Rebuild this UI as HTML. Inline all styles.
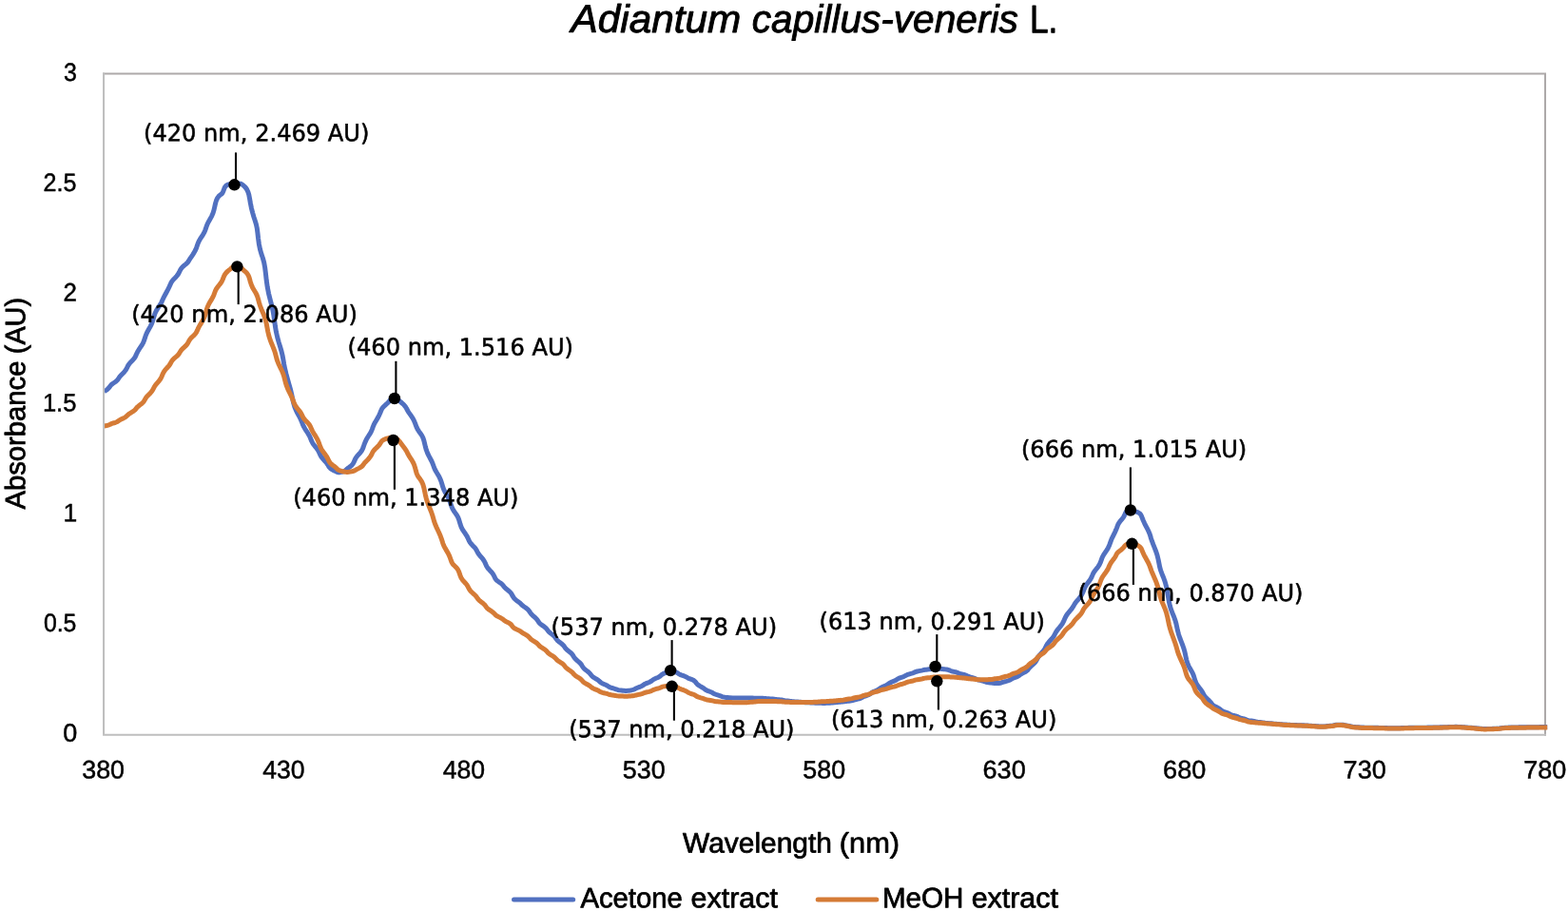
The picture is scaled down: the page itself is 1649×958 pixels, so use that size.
<!DOCTYPE html>
<html lang="en">
<head>
<meta charset="utf-8">
<title>Adiantum capillus-veneris L. absorbance spectrum</title>
<style>
html,body{margin:0;padding:0;background:#fff;}
body{width:1649px;height:958px;overflow:hidden;}
svg{display:block;}
text{fill:#000;stroke:#000;stroke-linejoin:round;text-rendering:geometricPrecision;}
.tk{font-family:"Liberation Sans",sans-serif;font-size:26.7px;stroke-width:0.5px;}
.at{font-family:"Liberation Sans",sans-serif;font-size:29.6px;stroke-width:0.75px;}
.dl{font-family:"DejaVu Sans","Liberation Sans",sans-serif;font-size:24.6px;stroke-width:0.55px;}
.ti{font-family:"Liberation Sans",sans-serif;font-size:41.2px;stroke-width:0.9px;}
.it{font-style:italic;}
</style>
</head>
<body>
<svg width="1649" height="958" viewBox="0 0 1649 958">
<rect x="0" y="0" width="1649" height="958" fill="#ffffff"/>
<path d="M109.05 77.4 L1625.0 77.4 L1625.0 772.65" fill="none" stroke="#ADA9A9" stroke-width="2.0" stroke-linecap="square"/>
<text class="ti" transform="matrix(1 0.0006 0 1 0 -0.5123)" y="34"><tspan class="it" x="600.54" textLength="178.78" lengthAdjust="spacingAndGlyphs">Adiantum</tspan> <tspan class="it" x="790.82" textLength="279.96" lengthAdjust="spacingAndGlyphs">capillus-veneris</tspan> <tspan x="1082.96" textLength="29.41" lengthAdjust="spacingAndGlyphs">L.</tspan></text>
<text class="tk" transform="matrix(1 0.0006 0 1 0 -0.0442)" x="66.9" y="85.1" textLength="13.84" lengthAdjust="spacingAndGlyphs">3</text>
<text class="tk" transform="matrix(1 0.0006 0 1 0 -0.0379)" x="45.59" y="200.9" textLength="34.81" lengthAdjust="spacingAndGlyphs">2.5</text>
<text class="tk" transform="matrix(1 0.0006 0 1 0 -0.0442)" x="66.55" y="316.6" textLength="14.41" lengthAdjust="spacingAndGlyphs">2</text>
<text class="tk" transform="matrix(1 0.0006 0 1 0 -0.0379)" x="44.9" y="432.4" textLength="35.52" lengthAdjust="spacingAndGlyphs">1.5</text>
<text class="tk" transform="matrix(1 0.0006 0 1 0 -0.0445)" x="66.54" y="548.2" textLength="14.71" lengthAdjust="spacingAndGlyphs">1</text>
<text class="tk" transform="matrix(1 0.0006 0 1 0 -0.0379)" x="45.88" y="664.0" textLength="34.51" lengthAdjust="spacingAndGlyphs">0.5</text>
<text class="tk" transform="matrix(1 0.0006 0 1 0 -0.0442)" x="66.2" y="779.7" textLength="15.01" lengthAdjust="spacingAndGlyphs">0</text>
<text class="tk" transform="matrix(1 0.0006 0 1 0 -0.0652)" x="86.28" y="818.4" textLength="44.77" lengthAdjust="spacingAndGlyphs">380</text>
<text class="tk" transform="matrix(1 0.0006 0 1 0 -0.1789)" x="276.22" y="818.4" textLength="44.35" lengthAdjust="spacingAndGlyphs">430</text>
<text class="tk" transform="matrix(1 0.0006 0 1 0 -0.2926)" x="465.75" y="818.4" textLength="44.35" lengthAdjust="spacingAndGlyphs">480</text>
<text class="tk" transform="matrix(1 0.0006 0 1 0 -0.4063)" x="654.81" y="818.4" textLength="44.83" lengthAdjust="spacingAndGlyphs">530</text>
<text class="tk" transform="matrix(1 0.0006 0 1 0 -0.5201)" x="844.34" y="818.4" textLength="44.83" lengthAdjust="spacingAndGlyphs">580</text>
<text class="tk" transform="matrix(1 0.0006 0 1 0 -0.6338)" x="1033.58" y="818.4" textLength="45.13" lengthAdjust="spacingAndGlyphs">630</text>
<text class="tk" transform="matrix(1 0.0006 0 1 0 -0.7475)" x="1223.11" y="818.4" textLength="45.13" lengthAdjust="spacingAndGlyphs">680</text>
<text class="tk" transform="matrix(1 0.0006 0 1 0 -0.8612)" x="1412.62" y="818.4" textLength="45.14" lengthAdjust="spacingAndGlyphs">730</text>
<text class="tk" transform="matrix(1 0.0006 0 1 0 -0.9749)" x="1602.15" y="818.4" textLength="45.14" lengthAdjust="spacingAndGlyphs">780</text>
<text class="at" transform="translate(26.25 535.9) rotate(-90) matrix(1 0.0006 0 1 0 -0.0664)" y="0"><tspan x="0.32" textLength="156.11" lengthAdjust="spacingAndGlyphs">Absorbance</tspan> <tspan x="163.69" textLength="59.22" lengthAdjust="spacingAndGlyphs">(AU)</tspan></text>
<text class="at" transform="matrix(1 0.0006 0 1 0 -0.4987)" y="896.5"><tspan x="718.14" textLength="156.81" lengthAdjust="spacingAndGlyphs">Wavelength</tspan> <tspan x="882.77" textLength="63.27" lengthAdjust="spacingAndGlyphs">(nm)</tspan></text>
<g>
<path d="M109.60 411.73 L110.73 411.00 L112.24 410.02 L113.55 408.92 L114.57 407.81 L115.37 406.71 L116.16 405.62 L117.15 404.55 L118.43 403.51 L119.93 402.48 L121.44 401.44 L122.75 400.37 L123.77 399.26 L124.57 398.11 L125.36 396.90 L126.35 395.59 L127.63 394.19 L129.13 392.69 L130.64 391.14 L131.95 389.54 L132.97 387.93 L133.77 386.31 L134.56 384.68 L135.55 383.07 L136.83 381.50 L138.33 379.99 L139.84 378.48 L141.15 376.95 L142.17 375.34 L142.97 373.64 L143.76 371.80 L144.75 369.81 L146.03 367.68 L147.53 365.45 L149.04 363.18 L150.35 360.88 L151.37 358.54 L152.17 356.13 L152.96 353.63 L153.95 351.06 L155.23 348.45 L156.73 345.80 L158.24 343.13 L159.55 340.42 L160.57 337.66 L161.37 334.86 L162.16 332.06 L163.15 329.28 L164.43 326.62 L165.93 324.14 L167.44 321.92 L168.75 319.93 L169.77 318.10 L170.57 316.33 L171.36 314.49 L172.35 312.43 L173.63 310.04 L175.13 307.31 L176.64 304.44 L177.95 301.74 L178.97 299.47 L179.77 297.68 L180.56 296.22 L181.55 294.89 L182.83 293.51 L184.33 292.00 L185.84 290.35 L187.15 288.62 L188.17 286.90 L188.97 285.23 L189.76 283.63 L190.75 282.09 L192.03 280.64 L193.53 279.31 L195.04 278.10 L196.35 277.00 L197.37 275.94 L198.17 274.82 L198.96 273.53 L199.95 271.95 L201.23 270.03 L202.73 267.81 L204.24 265.42 L205.55 263.01 L206.57 260.64 L207.37 258.31 L208.16 255.99 L209.15 253.68 L210.43 251.37 L211.93 249.08 L213.44 246.78 L214.75 244.48 L215.77 242.18 L216.57 239.86 L217.36 237.53 L218.35 235.14 L219.63 232.67 L221.13 230.08 L222.64 227.34 L223.95 224.35 L224.97 221.05 L225.77 217.48 L226.56 213.88 L227.55 210.61 L228.83 207.94 L230.33 206.05 L231.84 204.81 L233.15 203.88 L234.17 202.62 L234.97 200.75 L235.76 198.44 L236.75 196.39 L238.03 194.99 L239.53 194.22 L241.04 193.80 L242.35 193.52 L243.37 193.33 L244.17 193.18 L244.96 193.09 L245.95 193.03 L247.23 193.02 L248.73 193.02 L250.24 193.05 L251.55 193.08 L252.57 193.15 L253.37 193.32 L254.16 193.70 L255.15 194.38 L256.43 195.42 L257.93 196.88 L259.44 198.88 L260.75 201.52 L261.77 204.85 L262.57 208.89 L263.36 213.54 L264.35 218.57 L265.63 223.61 L266.96 228.24 L268.30 232.30 L269.43 236.04 L270.28 239.93 L270.90 244.64 L271.52 250.25 L272.34 256.40 L273.45 262.03 L274.83 266.86 L276.34 271.25 L277.65 276.01 L278.67 281.65 L279.47 288.16 L280.26 295.19 L281.25 302.10 L282.53 308.56 L284.03 314.55 L285.54 320.29 L286.85 325.98 L287.87 331.68 L288.67 337.45 L289.46 343.26 L290.45 349.06 L291.73 354.74 L293.23 360.11 L294.74 365.02 L296.05 369.51 L297.07 373.80 L297.87 378.20 L298.66 382.90 L299.65 387.91 L300.93 393.19 L302.43 398.61 L303.96 404.06 L305.46 409.38 L306.67 414.47 L307.66 419.25 L308.64 423.66 L309.83 427.71 L311.30 431.41 L312.99 434.77 L314.64 437.75 L315.95 440.35 L316.97 442.64 L317.77 444.73 L318.56 446.76 L319.55 448.87 L320.83 451.09 L322.33 453.38 L323.84 455.67 L325.15 457.87 L326.17 459.99 L326.97 462.01 L327.76 463.97 L328.75 465.89 L330.03 467.78 L331.53 469.66 L333.04 471.53 L334.35 473.37 L335.37 475.18 L336.17 476.95 L336.96 478.68 L337.95 480.40 L339.23 482.10 L340.73 483.80 L342.24 485.44 L343.55 486.99 L344.57 488.44 L345.37 489.81 L346.16 491.08 L347.15 492.26 L348.43 493.29 L349.93 494.17 L351.44 494.88 L352.75 495.49 L353.77 496.00 L354.57 496.41 L355.36 496.67 L356.35 496.76 L357.63 496.65 L359.13 496.38 L360.64 495.97 L361.95 495.47 L362.97 494.89 L363.77 494.23 L364.56 493.47 L365.55 492.63 L366.83 491.71 L368.33 490.64 L369.84 489.32 L371.15 487.73 L372.17 485.95 L372.97 484.13 L373.76 482.39 L374.75 480.75 L376.03 479.16 L377.53 477.53 L379.04 475.83 L380.35 474.02 L381.37 472.10 L382.17 470.01 L382.96 467.68 L383.95 465.08 L385.23 462.35 L386.73 459.75 L388.24 457.44 L389.55 455.39 L390.57 453.41 L391.37 451.33 L392.16 449.09 L393.15 446.70 L394.43 444.22 L395.93 441.69 L397.44 439.12 L398.75 436.61 L399.77 434.28 L400.57 432.23 L401.36 430.47 L402.35 428.92 L403.63 427.48 L405.13 426.08 L406.64 424.73 L407.95 423.46 L408.97 422.32 L409.77 421.34 L410.56 420.52 L411.55 419.84 L412.83 419.32 L414.33 418.99 L415.84 418.93 L417.15 419.15 L418.17 419.64 L418.97 420.33 L419.76 421.17 L420.75 422.13 L422.03 423.25 L423.53 424.57 L425.04 426.08 L426.35 427.67 L427.37 429.25 L428.17 430.76 L428.96 432.26 L429.95 433.85 L431.23 435.67 L432.73 437.79 L434.24 440.19 L435.55 442.69 L436.57 445.11 L437.37 447.34 L438.16 449.43 L439.15 451.45 L440.43 453.46 L441.93 455.48 L443.44 457.66 L444.75 460.14 L445.77 463.05 L446.57 466.31 L447.36 469.75 L448.35 473.20 L449.63 476.54 L451.13 479.65 L452.64 482.47 L453.95 484.99 L454.97 487.30 L455.77 489.53 L456.56 491.75 L457.55 494.00 L458.83 496.31 L460.33 498.76 L461.84 501.37 L463.15 504.10 L464.17 506.86 L464.97 509.58 L465.76 512.22 L466.75 514.81 L468.03 517.40 L469.53 520.01 L471.04 522.64 L472.35 525.28 L473.37 527.88 L474.17 530.40 L474.96 532.80 L475.95 535.07 L477.23 537.24 L478.73 539.36 L480.24 541.52 L481.55 543.80 L482.57 546.27 L483.37 548.91 L484.16 551.64 L485.15 554.32 L486.43 556.83 L487.93 559.14 L489.44 561.27 L490.75 563.29 L491.77 565.20 L492.57 567.04 L493.36 568.80 L494.35 570.48 L495.63 572.09 L497.13 573.65 L498.64 575.19 L499.95 576.73 L500.97 578.27 L501.77 579.82 L502.56 581.36 L503.55 582.92 L504.83 584.52 L506.33 586.21 L507.84 587.99 L509.15 589.88 L510.17 591.80 L510.97 593.67 L511.76 595.43 L512.75 597.06 L514.03 598.61 L515.53 600.15 L517.04 601.76 L518.35 603.46 L519.37 605.22 L520.17 606.94 L520.96 608.51 L521.95 609.86 L523.23 611.02 L524.73 612.04 L526.24 613.01 L527.55 613.97 L528.57 614.97 L529.37 616.01 L530.16 617.09 L531.15 618.20 L532.43 619.33 L533.93 620.49 L535.44 621.69 L536.75 622.95 L537.77 624.29 L538.57 625.73 L539.36 627.24 L540.35 628.74 L541.63 630.15 L543.13 631.41 L544.64 632.50 L545.95 633.44 L546.97 634.28 L547.77 635.09 L548.56 635.92 L549.55 636.81 L550.83 637.77 L552.33 638.79 L553.84 639.86 L555.15 640.96 L556.17 642.09 L556.97 643.26 L557.76 644.47 L558.75 645.72 L560.03 647.03 L561.53 648.37 L563.04 649.72 L564.35 651.06 L565.37 652.35 L566.17 653.58 L566.96 654.75 L567.95 655.84 L569.23 656.89 L570.73 657.91 L572.24 658.92 L573.55 659.94 L574.57 660.98 L575.37 662.06 L576.16 663.16 L577.15 664.30 L578.43 665.45 L579.93 666.61 L581.44 667.77 L582.75 668.94 L583.77 670.10 L584.57 671.25 L585.36 672.40 L586.35 673.55 L587.63 674.70 L589.13 675.85 L590.64 677.00 L591.95 678.15 L592.97 679.29 L593.77 680.43 L594.56 681.56 L595.55 682.70 L596.83 683.85 L598.33 685.01 L599.84 686.19 L601.15 687.40 L602.17 688.64 L602.97 689.91 L603.76 691.19 L604.75 692.47 L606.03 693.76 L607.53 695.05 L609.04 696.34 L610.35 697.62 L611.37 698.91 L612.17 700.20 L612.96 701.48 L613.95 702.73 L615.23 703.95 L616.73 705.12 L618.24 706.26 L619.55 707.37 L620.57 708.45 L621.37 709.50 L622.16 710.52 L623.15 711.50 L624.43 712.44 L625.93 713.34 L627.44 714.21 L628.75 715.05 L629.77 715.86 L630.57 716.64 L631.36 717.38 L632.35 718.09 L633.63 718.77 L635.13 719.43 L636.64 720.06 L637.95 720.67 L638.97 721.24 L639.77 721.79 L640.56 722.30 L641.55 722.79 L642.83 723.26 L644.33 723.71 L645.84 724.14 L647.15 724.53 L648.17 724.89 L648.97 725.20 L649.76 725.46 L650.75 725.68 L652.03 725.87 L653.53 726.05 L655.04 726.21 L656.35 726.33 L657.37 726.42 L658.17 726.45 L658.96 726.43 L659.95 726.33 L661.23 726.17 L662.73 725.95 L664.24 725.68 L665.55 725.39 L666.57 725.08 L667.37 724.72 L668.16 724.30 L669.15 723.82 L670.43 723.27 L671.93 722.69 L673.44 722.09 L674.75 721.49 L675.77 720.91 L676.57 720.34 L677.36 719.78 L678.35 719.21 L679.63 718.64 L681.13 718.06 L682.64 717.47 L683.95 716.87 L684.97 716.26 L685.77 715.64 L686.56 715.02 L687.55 714.38 L688.83 713.73 L690.33 713.08 L691.84 712.42 L693.15 711.75 L694.17 711.06 L694.97 710.36 L695.76 709.66 L696.75 708.96 L698.03 708.28 L699.53 707.61 L701.04 706.94 L702.35 706.27 L703.37 705.67 L704.17 705.22 L704.96 705.03 L705.95 705.13 L707.23 705.47 L708.73 705.99 L710.24 706.58 L711.55 707.19 L712.57 707.76 L713.37 708.31 L714.16 708.84 L715.15 709.37 L716.43 709.90 L717.93 710.43 L719.44 710.95 L720.75 711.46 L721.77 711.96 L722.57 712.43 L723.36 712.90 L724.35 713.37 L725.63 713.87 L727.13 714.42 L728.64 715.05 L729.95 715.78 L730.97 716.65 L731.77 717.62 L732.56 718.66 L733.55 719.71 L734.83 720.72 L736.33 721.65 L737.84 722.48 L739.15 723.23 L740.17 723.93 L740.97 724.59 L741.76 725.21 L742.75 725.82 L744.03 726.40 L745.53 726.96 L747.04 727.52 L748.35 728.05 L749.37 728.57 L750.17 729.07 L750.96 729.55 L751.95 730.01 L753.23 730.46 L754.73 730.90 L756.24 731.34 L757.55 731.77 L758.57 732.18 L759.37 732.54 L760.16 732.84 L761.15 733.09 L762.43 733.27 L763.93 733.42 L765.44 733.55 L766.75 733.66 L767.77 733.75 L768.57 733.82 L769.36 733.87 L770.35 733.90 L771.63 733.92 L773.13 733.93 L774.64 733.94 L775.95 733.95 L776.97 733.95 L777.77 733.96 L778.56 733.97 L779.55 733.97 L780.83 733.98 L782.33 733.99 L783.84 734.00 L785.15 734.01 L786.17 734.02 L786.97 734.04 L787.76 734.05 L788.75 734.07 L790.03 734.09 L791.53 734.11 L793.04 734.13 L794.35 734.15 L795.37 734.17 L796.17 734.20 L796.96 734.23 L797.95 734.26 L799.23 734.29 L800.73 734.33 L802.24 734.37 L803.55 734.43 L804.57 734.49 L805.37 734.56 L806.16 734.64 L807.15 734.72 L808.43 734.81 L809.93 734.90 L811.44 734.99 L812.75 735.09 L813.77 735.20 L814.57 735.30 L815.36 735.41 L816.35 735.52 L817.63 735.64 L819.13 735.78 L820.64 735.92 L821.95 736.08 L822.97 736.24 L823.77 736.41 L824.56 736.59 L825.55 736.76 L826.83 736.93 L828.33 737.10 L829.84 737.25 L831.15 737.40 L832.17 737.53 L832.97 737.65 L833.76 737.76 L834.75 737.85 L836.03 737.95 L837.53 738.04 L839.04 738.12 L840.35 738.21 L841.37 738.28 L842.17 738.36 L842.96 738.43 L843.95 738.50 L845.23 738.57 L846.73 738.63 L848.24 738.69 L849.55 738.75 L850.57 738.80 L851.37 738.86 L852.16 738.92 L853.15 738.97 L854.43 739.03 L855.93 739.08 L857.44 739.14 L858.75 739.19 L859.77 739.23 L860.57 739.28 L861.36 739.31 L862.35 739.34 L863.63 739.37 L865.13 739.38 L866.64 739.39 L867.95 739.39 L868.97 739.37 L869.77 739.33 L870.56 739.28 L871.55 739.22 L872.83 739.14 L874.33 739.05 L875.84 738.96 L877.15 738.86 L878.17 738.75 L878.97 738.64 L879.76 738.53 L880.75 738.42 L882.03 738.31 L883.53 738.20 L885.04 738.08 L886.35 737.97 L887.37 737.85 L888.17 737.73 L888.96 737.60 L889.95 737.46 L891.23 737.31 L892.73 737.15 L894.24 736.98 L895.55 736.80 L896.57 736.59 L897.37 736.37 L898.16 736.11 L899.15 735.82 L900.43 735.49 L901.93 735.12 L903.44 734.74 L904.75 734.33 L905.77 733.90 L906.57 733.46 L907.36 733.01 L908.35 732.54 L909.63 732.05 L911.13 731.52 L912.64 730.97 L913.95 730.39 L914.97 729.79 L915.77 729.18 L916.56 728.56 L917.55 727.95 L918.83 727.33 L920.33 726.72 L921.84 726.11 L923.15 725.50 L924.17 724.89 L924.97 724.27 L925.76 723.64 L926.75 723.02 L928.03 722.39 L929.53 721.77 L931.04 721.15 L932.35 720.53 L933.37 719.90 L934.17 719.28 L934.96 718.65 L935.95 718.02 L937.23 717.40 L938.73 716.78 L940.24 716.17 L941.55 715.57 L942.57 714.99 L943.37 714.43 L944.16 713.88 L945.15 713.35 L946.43 712.82 L947.93 712.31 L949.44 711.81 L950.75 711.31 L951.77 710.83 L952.57 710.37 L953.36 709.92 L954.35 709.47 L955.63 709.04 L957.13 708.62 L958.64 708.20 L959.95 707.78 L960.97 707.38 L961.77 707.00 L962.56 706.63 L963.55 706.28 L964.83 705.96 L966.33 705.67 L967.84 705.40 L969.15 705.16 L970.17 704.93 L970.97 704.71 L971.76 704.51 L972.75 704.32 L974.03 704.14 L975.53 703.99 L977.04 703.84 L978.35 703.70 L979.37 703.57 L980.17 703.45 L980.96 703.33 L981.95 703.24 L983.23 703.17 L984.73 703.13 L986.24 703.13 L987.55 703.16 L988.57 703.23 L989.37 703.32 L990.16 703.43 L991.15 703.56 L992.43 703.70 L993.93 703.86 L995.44 704.06 L996.75 704.31 L997.77 704.59 L998.57 704.92 L999.36 705.26 L1000.35 705.62 L1001.63 705.98 L1003.13 706.33 L1004.64 706.67 L1005.95 707.01 L1006.97 707.35 L1007.77 707.69 L1008.56 708.04 L1009.55 708.39 L1010.83 708.75 L1012.33 709.11 L1013.84 709.48 L1015.15 709.86 L1016.17 710.24 L1016.97 710.64 L1017.76 711.05 L1018.75 711.48 L1020.03 711.91 L1021.53 712.34 L1023.04 712.76 L1024.35 713.18 L1025.37 713.59 L1026.17 713.98 L1026.96 714.35 L1027.95 714.71 L1029.23 715.05 L1030.73 715.39 L1032.24 715.71 L1033.55 716.03 L1034.57 716.34 L1035.37 716.64 L1036.16 716.95 L1037.15 717.24 L1038.43 717.52 L1039.93 717.75 L1041.44 717.95 L1042.75 718.11 L1043.77 718.25 L1044.57 718.38 L1045.36 718.48 L1046.35 718.54 L1047.63 718.56 L1049.13 718.52 L1050.64 718.40 L1051.95 718.22 L1052.97 717.98 L1053.77 717.70 L1054.56 717.39 L1055.55 717.07 L1056.83 716.73 L1058.33 716.36 L1059.84 715.95 L1061.15 715.49 L1062.17 715.01 L1062.97 714.51 L1063.76 714.00 L1064.75 713.49 L1066.03 712.96 L1067.53 712.43 L1069.04 711.88 L1070.35 711.31 L1071.37 710.71 L1072.17 710.09 L1072.96 709.44 L1073.95 708.76 L1075.23 708.05 L1076.73 707.31 L1078.24 706.52 L1079.55 705.69 L1080.57 704.80 L1081.37 703.84 L1082.16 702.80 L1083.15 701.67 L1084.43 700.44 L1085.93 699.12 L1087.44 697.75 L1088.75 696.33 L1089.77 694.87 L1090.57 693.37 L1091.36 691.82 L1092.35 690.21 L1093.63 688.56 L1095.13 686.89 L1096.64 685.23 L1097.95 683.59 L1098.97 681.97 L1099.77 680.34 L1100.56 678.72 L1101.55 677.08 L1102.83 675.42 L1104.33 673.73 L1105.89 672.02 L1107.31 670.30 L1108.45 668.56 L1109.36 666.83 L1110.27 665.11 L1111.38 663.36 L1112.77 661.55 L1114.39 659.65 L1116.01 657.64 L1117.43 655.53 L1118.57 653.40 L1119.48 651.29 L1120.39 649.23 L1121.49 647.21 L1122.87 645.24 L1124.46 643.30 L1126.07 641.43 L1127.47 639.66 L1128.58 637.98 L1129.48 636.39 L1130.37 634.84 L1131.45 633.27 L1132.83 631.62 L1134.43 629.82 L1136.03 627.85 L1137.44 625.72 L1138.55 623.50 L1139.45 621.26 L1140.33 619.05 L1141.35 616.92 L1142.63 614.86 L1144.13 612.85 L1145.64 610.87 L1146.95 608.93 L1147.97 607.02 L1148.77 605.14 L1149.56 603.31 L1150.55 601.51 L1151.83 599.71 L1153.33 597.86 L1154.84 595.94 L1156.15 593.91 L1157.17 591.78 L1157.97 589.59 L1158.76 587.36 L1159.75 585.11 L1161.03 582.85 L1162.53 580.59 L1164.04 578.35 L1165.35 576.16 L1166.37 574.02 L1167.17 571.93 L1167.92 569.80 L1168.75 567.53 L1169.88 565.04 L1171.22 562.34 L1172.57 559.61 L1173.72 557.07 L1174.58 554.88 L1175.23 553.05 L1175.86 551.45 L1176.70 549.96 L1177.80 548.47 L1179.11 546.93 L1180.42 545.37 L1181.54 543.83 L1182.37 542.33 L1182.98 540.86 L1183.58 539.46 L1184.38 538.25 L1185.63 537.37 L1187.13 536.92 L1188.64 536.78 L1189.95 536.81 L1190.97 536.89 L1191.77 537.02 L1192.56 537.22 L1193.55 537.53 L1194.83 538.00 L1196.31 538.61 L1197.73 539.38 L1198.96 540.32 L1199.89 541.52 L1200.61 543.03 L1201.32 544.92 L1202.25 547.26 L1203.53 550.05 L1205.03 553.05 L1206.54 555.96 L1207.85 558.56 L1208.87 560.91 L1209.67 563.28 L1210.46 565.93 L1211.45 568.97 L1212.73 572.38 L1214.23 576.09 L1215.74 580.02 L1217.05 584.10 L1218.07 588.24 L1218.87 592.33 L1219.66 596.25 L1220.65 599.91 L1221.98 603.44 L1223.55 607.24 L1225.14 611.62 L1226.52 616.65 L1227.60 622.00 L1228.48 627.33 L1229.34 632.35 L1230.35 636.95 L1231.63 641.15 L1233.13 645.04 L1234.64 648.77 L1235.95 652.42 L1236.97 656.04 L1237.77 659.69 L1238.56 663.40 L1239.55 667.18 L1240.83 671.00 L1242.33 674.86 L1243.84 678.75 L1245.15 682.63 L1246.17 686.47 L1246.97 690.23 L1247.76 693.85 L1248.75 697.24 L1250.03 700.33 L1251.53 703.11 L1253.04 705.67 L1254.35 708.18 L1255.37 710.76 L1256.17 713.39 L1256.96 715.99 L1257.95 718.41 L1259.23 720.61 L1260.73 722.62 L1262.24 724.48 L1263.55 726.22 L1264.57 727.87 L1265.37 729.43 L1266.16 730.92 L1267.15 732.37 L1268.43 733.82 L1269.93 735.27 L1271.44 736.68 L1272.75 738.01 L1273.77 739.20 L1274.57 740.25 L1275.36 741.18 L1276.35 742.03 L1277.63 742.82 L1279.13 743.58 L1280.64 744.32 L1281.95 745.05 L1282.97 745.75 L1283.77 746.43 L1284.56 747.08 L1285.55 747.70 L1286.83 748.27 L1288.33 748.82 L1289.84 749.34 L1291.15 749.83 L1292.17 750.31 L1292.97 750.77 L1293.76 751.21 L1294.75 751.65 L1296.03 752.06 L1297.53 752.46 L1299.04 752.85 L1300.35 753.23 L1301.37 753.61 L1302.17 753.99 L1302.96 754.38 L1303.95 754.77 L1305.23 755.18 L1306.73 755.59 L1308.24 756.00 L1309.55 756.39 L1310.57 756.74 L1311.37 757.06 L1312.16 757.35 L1313.15 757.61 L1314.43 757.85 L1315.93 758.08 L1317.44 758.30 L1318.75 758.51 L1319.77 758.71 L1320.57 758.90 L1321.36 759.08 L1322.35 759.26 L1323.63 759.42 L1325.13 759.58 L1326.64 759.73 L1327.95 759.88 L1328.97 760.02 L1329.77 760.15 L1330.56 760.28 L1331.55 760.40 L1332.83 760.51 L1334.33 760.63 L1335.84 760.73 L1337.15 760.84 L1338.17 760.94 L1338.97 761.04 L1339.76 761.14 L1340.75 761.24 L1342.03 761.33 L1343.53 761.43 L1345.04 761.52 L1346.35 761.62 L1347.37 761.71 L1348.17 761.79 L1348.96 761.88 L1349.95 761.96 L1351.23 762.04 L1352.73 762.11 L1354.24 762.19 L1355.55 762.25 L1356.57 762.31 L1357.37 762.37 L1358.16 762.42 L1359.15 762.47 L1360.43 762.51 L1361.93 762.55 L1363.44 762.59 L1364.75 762.63 L1365.77 762.66 L1366.57 762.70 L1367.36 762.73 L1368.35 762.77 L1369.63 762.81 L1371.13 762.85 L1372.64 762.90 L1373.95 762.95 L1374.97 763.01 L1375.77 763.07 L1376.56 763.15 L1377.55 763.23 L1378.83 763.32 L1380.33 763.40 L1381.84 763.49 L1383.15 763.58 L1384.17 763.66 L1384.97 763.74 L1385.76 763.80 L1386.75 763.86 L1388.03 763.90 L1389.53 763.93 L1391.04 763.93 L1392.35 763.91 L1393.37 763.87 L1394.17 763.80 L1394.96 763.71 L1395.95 763.60 L1397.23 763.49 L1398.73 763.36 L1400.24 763.23 L1401.55 763.08 L1402.57 762.90 L1403.37 762.70 L1404.16 762.50 L1405.15 762.33 L1406.43 762.22 L1407.93 762.18 L1409.44 762.19 L1410.75 762.22 L1411.77 762.28 L1412.57 762.35 L1413.36 762.45 L1414.35 762.61 L1415.63 762.84 L1417.13 763.13 L1418.64 763.44 L1419.95 763.73 L1420.97 763.97 L1421.77 764.16 L1422.56 764.31 L1423.55 764.44 L1424.83 764.56 L1426.33 764.67 L1427.84 764.76 L1429.15 764.85 L1430.17 764.92 L1430.97 764.98 L1431.76 765.03 L1432.75 765.07 L1434.03 765.10 L1435.53 765.13 L1437.04 765.15 L1438.35 765.18 L1439.37 765.19 L1440.17 765.21 L1440.96 765.23 L1441.95 765.25 L1443.23 765.26 L1444.73 765.28 L1446.24 765.29 L1447.55 765.31 L1448.57 765.33 L1449.37 765.36 L1450.16 765.38 L1451.15 765.41 L1452.43 765.45 L1453.93 765.48 L1455.44 765.52 L1456.75 765.55 L1457.77 765.59 L1458.57 765.62 L1459.36 765.66 L1460.35 765.68 L1461.63 765.71 L1463.13 765.73 L1464.64 765.74 L1465.95 765.74 L1466.97 765.74 L1467.77 765.73 L1468.56 765.72 L1469.55 765.70 L1470.83 765.67 L1472.33 765.64 L1473.84 765.60 L1475.15 765.57 L1476.17 765.53 L1476.97 765.49 L1477.76 765.46 L1478.75 765.43 L1480.03 765.40 L1481.53 765.37 L1483.04 765.35 L1484.35 765.33 L1485.37 765.31 L1486.17 765.30 L1486.96 765.29 L1487.95 765.27 L1489.23 765.26 L1490.73 765.25 L1492.24 765.24 L1493.55 765.22 L1494.57 765.21 L1495.37 765.20 L1496.16 765.18 L1497.15 765.17 L1498.43 765.16 L1499.93 765.14 L1501.44 765.12 L1502.75 765.10 L1503.77 765.09 L1504.57 765.07 L1505.36 765.05 L1506.35 765.03 L1507.63 765.01 L1509.13 764.99 L1510.64 764.97 L1511.95 764.95 L1512.97 764.92 L1513.77 764.90 L1514.56 764.87 L1515.55 764.84 L1516.83 764.81 L1518.33 764.77 L1519.84 764.73 L1521.15 764.68 L1522.17 764.63 L1522.97 764.58 L1523.76 764.53 L1524.75 764.48 L1526.03 764.44 L1527.53 764.41 L1529.04 764.38 L1530.35 764.36 L1531.37 764.36 L1532.17 764.37 L1532.96 764.40 L1533.95 764.45 L1535.23 764.51 L1536.73 764.57 L1538.24 764.65 L1539.55 764.72 L1540.57 764.80 L1541.37 764.87 L1542.16 764.95 L1543.15 765.04 L1544.43 765.13 L1545.93 765.22 L1547.44 765.32 L1548.75 765.41 L1549.77 765.51 L1550.57 765.62 L1551.36 765.72 L1552.35 765.84 L1553.63 765.97 L1555.13 766.10 L1556.64 766.23 L1557.95 766.34 L1558.97 766.44 L1559.77 766.50 L1560.56 766.53 L1561.55 766.54 L1562.83 766.53 L1564.33 766.51 L1565.84 766.49 L1567.15 766.46 L1568.17 766.42 L1568.97 766.38 L1569.76 766.34 L1570.75 766.29 L1572.03 766.24 L1573.53 766.19 L1575.04 766.12 L1576.35 766.03 L1577.37 765.92 L1578.17 765.79 L1578.96 765.65 L1579.95 765.51 L1581.23 765.38 L1582.73 765.27 L1584.24 765.19 L1585.55 765.14 L1586.57 765.10 L1587.37 765.06 L1588.16 765.03 L1589.15 765.01 L1590.43 764.98 L1591.93 764.96 L1593.44 764.94 L1594.75 764.93 L1595.77 764.91 L1596.57 764.89 L1597.36 764.87 L1598.35 764.86 L1599.63 764.84 L1601.13 764.82 L1602.64 764.81 L1603.95 764.79 L1604.97 764.78 L1605.77 764.76 L1606.56 764.75 L1607.55 764.74 L1608.83 764.72 L1610.33 764.71 L1611.84 764.70 L1613.15 764.69 L1614.17 764.67 L1614.97 764.66 L1615.76 764.65 L1616.75 764.64 L1618.03 764.63 L1619.53 764.62 L1621.04 764.61 L1622.35 764.60 L1623.37 764.58 L1624.17 764.58 L1624.96 764.57 L1625.95 764.56 L1627.20 764.55" fill="none" stroke="#5170C0" stroke-width="5.0" stroke-linejoin="round" stroke-linecap="butt"/>
<path d="M109.60 447.98 L110.73 447.78 L112.24 447.50 L113.55 447.18 L114.57 446.83 L115.37 446.46 L116.16 446.07 L117.15 445.66 L118.43 445.23 L119.93 444.76 L121.44 444.26 L122.75 443.73 L123.77 443.19 L124.57 442.64 L125.36 442.07 L126.35 441.47 L127.63 440.81 L129.13 440.11 L130.64 439.37 L131.95 438.61 L132.97 437.83 L133.77 437.03 L134.56 436.22 L135.55 435.39 L136.83 434.53 L138.33 433.64 L139.84 432.73 L141.15 431.79 L142.17 430.83 L142.97 429.85 L143.76 428.84 L144.75 427.80 L146.03 426.73 L147.53 425.61 L149.04 424.45 L150.35 423.24 L151.37 421.95 L152.17 420.60 L152.96 419.18 L153.95 417.70 L155.23 416.20 L156.73 414.68 L158.24 413.16 L159.55 411.65 L160.57 410.14 L161.37 408.62 L162.16 407.06 L163.15 405.45 L164.43 403.78 L165.93 402.05 L167.44 400.27 L168.75 398.44 L169.77 396.59 L170.57 394.71 L171.36 392.82 L172.35 390.96 L173.63 389.15 L175.13 387.44 L176.64 385.82 L177.95 384.27 L178.97 382.77 L179.77 381.30 L180.56 379.88 L181.55 378.50 L182.83 377.16 L184.33 375.86 L185.84 374.60 L187.15 373.34 L188.17 372.08 L188.97 370.77 L189.76 369.43 L190.75 368.06 L192.03 366.68 L193.53 365.31 L195.04 363.93 L196.35 362.52 L197.37 361.07 L198.17 359.59 L198.96 358.10 L199.95 356.62 L201.23 355.17 L202.73 353.74 L204.24 352.32 L205.55 350.87 L206.57 349.35 L207.37 347.71 L208.16 345.89 L209.15 343.86 L210.43 341.60 L211.93 339.13 L213.44 336.53 L214.75 333.84 L215.77 331.07 L216.57 328.21 L217.36 325.31 L218.35 322.45 L219.63 319.70 L221.13 317.10 L222.64 314.63 L223.95 312.25 L224.97 309.96 L225.77 307.76 L226.56 305.69 L227.55 303.73 L228.83 301.85 L230.33 299.99 L231.84 298.08 L233.15 296.09 L234.17 294.01 L234.97 291.95 L235.76 289.99 L236.75 288.20 L238.03 286.58 L239.53 285.13 L241.04 283.89 L242.35 282.87 L243.37 282.03 L244.17 281.31 L244.96 280.68 L245.95 280.16 L247.23 279.78 L248.73 279.59 L250.24 279.63 L251.55 279.92 L252.57 280.47 L253.37 281.23 L254.16 282.14 L255.15 283.16 L256.43 284.30 L257.93 285.59 L259.44 287.10 L260.75 288.88 L261.77 291.03 L262.57 293.59 L263.36 296.51 L264.35 299.53 L265.63 302.38 L267.13 304.99 L268.64 307.47 L269.95 310.01 L270.97 312.67 L271.77 315.49 L272.56 318.46 L273.55 321.60 L274.83 324.92 L276.33 328.44 L277.84 332.17 L279.15 336.11 L280.17 340.24 L280.97 344.49 L281.76 348.76 L282.75 353.00 L284.03 357.13 L285.53 361.05 L287.04 364.66 L288.35 367.97 L289.37 371.07 L290.17 374.09 L290.96 377.11 L291.95 380.16 L293.23 383.24 L294.73 386.31 L296.24 389.38 L297.55 392.42 L298.57 395.45 L299.37 398.51 L300.16 401.68 L301.15 405.00 L302.43 408.40 L303.93 411.70 L305.44 414.72 L306.75 417.42 L307.77 419.84 L308.57 422.09 L309.36 424.21 L310.35 426.23 L311.63 428.16 L313.13 430.02 L314.64 431.82 L315.95 433.57 L316.97 435.27 L317.77 436.93 L318.56 438.55 L319.55 440.14 L320.83 441.69 L322.33 443.21 L323.84 444.76 L325.15 446.36 L326.17 448.04 L326.97 449.81 L327.76 451.67 L328.75 453.67 L330.03 455.84 L331.53 458.21 L333.04 460.71 L334.35 463.24 L335.37 465.67 L336.17 467.98 L336.96 470.16 L337.95 472.26 L339.23 474.31 L340.73 476.34 L342.24 478.34 L343.55 480.27 L344.57 482.08 L345.37 483.75 L346.16 485.28 L347.15 486.70 L348.43 488.02 L349.93 489.23 L351.44 490.33 L352.75 491.32 L353.77 492.24 L354.57 493.08 L355.36 493.83 L356.35 494.47 L357.63 494.98 L359.13 495.39 L360.64 495.72 L361.95 496.00 L362.97 496.22 L363.77 496.37 L364.56 496.43 L365.55 496.40 L366.83 496.28 L368.33 496.09 L369.84 495.83 L371.15 495.54 L372.17 495.21 L372.97 494.85 L373.76 494.39 L374.75 493.82 L376.03 493.13 L377.53 492.37 L379.04 491.52 L380.35 490.60 L381.37 489.62 L382.17 488.57 L382.96 487.45 L383.95 486.25 L385.23 484.92 L386.73 483.44 L388.24 481.82 L389.55 480.09 L390.57 478.38 L391.37 476.73 L392.16 475.19 L393.15 473.72 L394.43 472.29 L395.93 470.87 L397.44 469.42 L398.75 467.96 L399.77 466.54 L400.57 465.21 L401.36 464.05 L402.35 463.08 L403.63 462.32 L405.13 461.72 L406.64 461.26 L407.95 460.89 L408.97 460.60 L409.77 460.37 L410.56 460.23 L411.55 460.20 L412.83 460.31 L414.33 460.55 L415.84 460.93 L417.15 461.43 L418.17 462.03 L418.97 462.76 L419.76 463.72 L420.75 465.05 L422.03 466.79 L423.53 468.78 L425.04 470.77 L426.35 472.56 L427.37 474.16 L428.17 475.69 L428.96 477.30 L429.95 479.08 L431.23 481.09 L432.73 483.35 L434.24 485.90 L435.55 488.78 L436.57 491.91 L437.37 495.02 L438.16 497.79 L439.15 500.06 L440.43 502.00 L441.93 503.97 L443.44 506.34 L444.75 509.26 L445.77 512.66 L446.57 516.40 L447.36 520.34 L448.35 524.39 L449.63 528.43 L451.13 532.34 L452.64 536.01 L453.95 539.41 L454.97 542.53 L455.77 545.40 L456.56 548.17 L457.55 551.03 L458.83 554.08 L460.33 557.30 L461.84 560.51 L463.15 563.53 L464.17 566.29 L464.97 568.86 L465.76 571.34 L466.75 573.82 L468.03 576.33 L469.53 578.85 L471.04 581.41 L472.35 584.01 L473.37 586.57 L474.17 588.96 L474.96 591.04 L475.95 592.79 L477.23 594.29 L478.73 595.72 L480.24 597.25 L481.55 599.01 L482.57 601.08 L483.37 603.36 L484.16 605.68 L485.15 607.86 L486.43 609.81 L487.93 611.56 L489.44 613.18 L490.75 614.74 L491.77 616.28 L492.57 617.80 L493.36 619.33 L494.35 620.83 L495.63 622.29 L497.13 623.70 L498.64 625.03 L499.95 626.29 L500.97 627.49 L501.77 628.63 L502.56 629.76 L503.55 630.88 L504.83 632.02 L506.33 633.17 L507.84 634.34 L509.15 635.50 L510.17 636.65 L510.97 637.77 L511.76 638.86 L512.75 639.92 L514.03 640.95 L515.53 641.95 L517.04 642.93 L518.35 643.86 L519.37 644.76 L520.17 645.63 L520.96 646.47 L521.95 647.28 L523.23 648.08 L524.73 648.85 L526.24 649.60 L527.55 650.33 L528.57 651.03 L529.37 651.70 L530.16 652.35 L531.15 653.00 L532.43 653.68 L533.93 654.40 L535.44 655.21 L536.75 656.12 L537.77 657.12 L538.57 658.18 L539.36 659.23 L540.35 660.21 L541.63 661.07 L543.13 661.82 L544.64 662.47 L545.95 663.06 L546.97 663.64 L547.77 664.22 L548.56 664.84 L549.55 665.52 L550.83 666.28 L552.33 667.10 L553.84 667.97 L555.15 668.87 L556.17 669.80 L556.97 670.72 L557.76 671.63 L558.75 672.54 L560.03 673.44 L561.53 674.34 L563.04 675.24 L564.35 676.14 L565.37 677.05 L566.17 677.97 L566.96 678.88 L567.95 679.81 L569.23 680.73 L570.73 681.66 L572.24 682.59 L573.55 683.53 L574.57 684.45 L575.37 685.38 L576.16 686.30 L577.15 687.22 L578.43 688.13 L579.93 689.05 L581.44 689.96 L582.75 690.88 L583.77 691.80 L584.57 692.72 L585.36 693.63 L586.35 694.55 L587.63 695.47 L589.13 696.40 L590.64 697.34 L591.95 698.31 L592.97 699.30 L593.77 700.31 L594.56 701.34 L595.55 702.39 L596.83 703.43 L598.33 704.46 L599.84 705.47 L601.15 706.45 L602.17 707.41 L602.97 708.35 L603.76 709.28 L604.75 710.20 L606.03 711.11 L607.53 712.03 L609.04 712.95 L610.35 713.88 L611.37 714.81 L612.17 715.74 L612.96 716.66 L613.95 717.55 L615.23 718.42 L616.73 719.24 L618.24 720.03 L619.55 720.80 L620.57 721.54 L621.37 722.25 L622.16 722.94 L623.15 723.60 L624.43 724.22 L625.93 724.83 L627.44 725.41 L628.75 725.97 L629.77 726.51 L630.57 727.02 L631.36 727.50 L632.35 727.94 L633.63 728.35 L635.13 728.73 L636.64 729.09 L637.95 729.42 L638.97 729.73 L639.77 730.02 L640.56 730.29 L641.55 730.55 L642.83 730.79 L644.33 731.03 L645.84 731.25 L647.15 731.45 L648.17 731.63 L648.97 731.77 L649.76 731.87 L650.75 731.95 L652.03 732.02 L653.53 732.07 L655.04 732.12 L656.35 732.15 L657.37 732.18 L658.17 732.18 L658.96 732.17 L659.95 732.13 L661.23 732.06 L662.73 731.96 L664.24 731.85 L665.55 731.72 L666.57 731.58 L667.37 731.41 L668.16 731.20 L669.15 730.95 L670.43 730.66 L671.93 730.34 L673.44 730.01 L674.75 729.68 L675.77 729.35 L676.57 729.02 L677.36 728.70 L678.35 728.36 L679.63 728.02 L681.13 727.67 L682.64 727.31 L683.95 726.94 L684.97 726.55 L685.77 726.14 L686.56 725.71 L687.55 725.28 L688.83 724.85 L690.33 724.44 L691.84 724.04 L693.15 723.65 L694.17 723.27 L694.97 722.89 L695.76 722.52 L696.75 722.18 L698.03 721.89 L699.53 721.66 L701.04 721.47 L702.35 721.32 L703.37 721.20 L704.17 721.10 L704.96 721.06 L705.95 721.11 L707.23 721.27 L708.73 721.56 L710.24 721.95 L711.55 722.42 L712.57 722.90 L713.37 723.39 L714.16 723.88 L715.15 724.37 L716.43 724.89 L717.93 725.42 L719.44 725.95 L720.75 726.47 L721.77 726.98 L722.57 727.49 L723.36 728.00 L724.35 728.50 L725.63 729.01 L727.13 729.52 L728.64 730.03 L729.95 730.55 L730.97 731.09 L731.77 731.63 L732.56 732.17 L733.55 732.69 L734.83 733.18 L736.33 733.64 L737.84 734.05 L739.15 734.42 L740.17 734.77 L740.97 735.10 L741.76 735.40 L742.75 735.69 L744.03 735.97 L745.53 736.23 L747.04 736.47 L748.35 736.71 L749.37 736.93 L750.17 737.14 L750.96 737.34 L751.95 737.52 L753.23 737.68 L754.73 737.83 L756.24 737.97 L757.55 738.11 L758.57 738.23 L759.37 738.33 L760.16 738.42 L761.15 738.47 L762.43 738.51 L763.93 738.53 L765.44 738.55 L766.75 738.57 L767.77 738.59 L768.57 738.60 L769.36 738.62 L770.35 738.63 L771.63 738.64 L773.13 738.65 L774.64 738.66 L775.95 738.67 L776.97 738.68 L777.77 738.68 L778.56 738.69 L779.55 738.69 L780.83 738.70 L782.33 738.70 L783.84 738.69 L785.15 738.67 L786.17 738.63 L786.97 738.57 L787.76 738.48 L788.75 738.38 L790.03 738.26 L791.53 738.14 L793.04 738.01 L794.35 737.89 L795.37 737.78 L796.17 737.68 L796.96 737.61 L797.95 737.55 L799.23 737.52 L800.73 737.50 L802.24 737.50 L803.55 737.50 L804.57 737.51 L805.37 737.51 L806.16 737.52 L807.15 737.52 L808.43 737.53 L809.93 737.54 L811.44 737.55 L812.75 737.56 L813.77 737.57 L814.57 737.58 L815.36 737.59 L816.35 737.61 L817.63 737.64 L819.13 737.68 L820.64 737.74 L821.95 737.81 L822.97 737.89 L823.77 737.97 L824.56 738.06 L825.55 738.15 L826.83 738.23 L828.33 738.31 L829.84 738.37 L831.15 738.43 L832.17 738.47 L832.97 738.49 L833.76 738.50 L834.75 738.50 L836.03 738.50 L837.53 738.50 L839.04 738.50 L840.35 738.50 L841.37 738.50 L842.17 738.50 L842.96 738.50 L843.95 738.50 L845.23 738.50 L846.73 738.50 L848.24 738.50 L849.55 738.50 L850.57 738.50 L851.37 738.48 L852.16 738.46 L853.15 738.43 L854.43 738.39 L855.93 738.35 L857.44 738.29 L858.75 738.23 L859.77 738.16 L860.57 738.09 L861.36 738.02 L862.35 737.95 L863.63 737.87 L865.13 737.80 L866.64 737.73 L867.95 737.66 L868.97 737.60 L869.77 737.53 L870.56 737.46 L871.55 737.39 L872.83 737.32 L874.33 737.24 L875.84 737.17 L877.15 737.08 L878.17 737.00 L878.97 736.91 L879.76 736.81 L880.75 736.71 L882.03 736.60 L883.53 736.49 L885.04 736.36 L886.35 736.21 L887.37 736.05 L888.17 735.88 L888.96 735.70 L889.95 735.50 L891.23 735.29 L892.73 735.08 L894.24 734.86 L895.55 734.64 L896.57 734.42 L897.37 734.19 L898.16 733.95 L899.15 733.70 L900.43 733.44 L901.93 733.18 L903.44 732.90 L904.75 732.62 L905.77 732.32 L906.57 732.02 L907.36 731.71 L908.35 731.39 L909.63 731.05 L911.13 730.70 L912.64 730.33 L913.95 729.95 L914.97 729.56 L915.77 729.17 L916.56 728.78 L917.55 728.40 L918.83 728.02 L920.33 727.66 L921.84 727.31 L923.15 726.96 L924.17 726.63 L924.97 726.29 L925.76 725.96 L926.75 725.63 L928.03 725.30 L929.53 724.97 L931.04 724.64 L932.35 724.32 L933.37 723.99 L934.17 723.67 L934.96 723.35 L935.95 723.03 L937.23 722.72 L938.73 722.40 L940.24 722.08 L941.55 721.75 L942.57 721.41 L943.37 721.07 L944.16 720.71 L945.15 720.33 L946.43 719.94 L947.93 719.54 L949.44 719.14 L950.75 718.73 L951.77 718.34 L952.57 717.95 L953.36 717.59 L954.35 717.24 L955.63 716.91 L957.13 716.60 L958.64 716.30 L959.95 716.01 L960.97 715.72 L961.77 715.45 L962.56 715.18 L963.55 714.92 L964.83 714.67 L966.33 714.44 L967.84 714.20 L969.15 713.98 L970.17 713.75 L970.97 713.54 L971.76 713.33 L972.75 713.13 L974.03 712.95 L975.53 712.79 L977.04 712.64 L978.35 712.51 L979.37 712.38 L980.17 712.26 L980.96 712.14 L981.95 712.03 L983.23 711.95 L984.73 711.88 L986.24 711.83 L987.55 711.81 L988.57 711.80 L989.37 711.80 L990.16 711.80 L991.15 711.80 L992.43 711.80 L993.93 711.80 L995.44 711.80 L996.75 711.80 L997.77 711.81 L998.57 711.84 L999.36 711.88 L1000.35 711.94 L1001.63 712.02 L1003.13 712.11 L1004.64 712.21 L1005.95 712.31 L1006.97 712.41 L1007.77 712.52 L1008.56 712.62 L1009.55 712.72 L1010.83 712.83 L1012.33 712.95 L1013.84 713.07 L1015.15 713.20 L1016.17 713.32 L1016.97 713.45 L1017.76 713.57 L1018.75 713.69 L1020.03 713.80 L1021.53 713.92 L1023.04 714.04 L1024.35 714.17 L1025.37 714.30 L1026.17 714.42 L1026.96 714.53 L1027.95 714.63 L1029.23 714.70 L1030.73 714.76 L1032.24 714.78 L1033.55 714.79 L1034.57 714.78 L1035.37 714.75 L1036.16 714.72 L1037.15 714.69 L1038.43 714.64 L1039.93 714.59 L1041.44 714.52 L1042.75 714.43 L1043.77 714.31 L1044.57 714.17 L1045.36 714.01 L1046.35 713.83 L1047.63 713.64 L1049.13 713.42 L1050.64 713.20 L1051.95 712.96 L1052.97 712.70 L1053.77 712.42 L1054.56 712.13 L1055.55 711.83 L1056.83 711.51 L1058.33 711.18 L1059.84 710.83 L1061.15 710.46 L1062.17 710.06 L1062.97 709.63 L1063.76 709.18 L1064.75 708.71 L1066.03 708.24 L1067.53 707.76 L1069.04 707.27 L1070.35 706.76 L1071.37 706.23 L1072.17 705.66 L1072.96 705.06 L1073.95 704.42 L1075.23 703.73 L1076.73 703.01 L1078.24 702.25 L1079.55 701.46 L1080.57 700.64 L1081.37 699.80 L1082.16 698.93 L1083.15 698.02 L1084.43 697.07 L1085.93 696.10 L1087.44 695.10 L1088.75 694.11 L1089.77 693.11 L1090.57 692.13 L1091.36 691.14 L1092.35 690.16 L1093.63 689.18 L1095.13 688.19 L1096.64 687.21 L1097.95 686.23 L1098.97 685.26 L1099.77 684.28 L1100.56 683.30 L1101.55 682.32 L1102.83 681.32 L1104.33 680.31 L1105.84 679.29 L1107.15 678.23 L1108.17 677.15 L1108.97 676.05 L1109.76 674.92 L1110.75 673.74 L1112.03 672.51 L1113.53 671.21 L1115.04 669.87 L1116.35 668.51 L1117.37 667.13 L1118.19 665.74 L1119.18 664.32 L1120.36 662.89 L1121.83 661.46 L1123.52 660.02 L1125.22 658.59 L1126.72 657.17 L1127.93 655.77 L1128.93 654.36 L1129.91 652.94 L1131.09 651.52 L1132.43 650.09 L1133.93 648.63 L1135.44 647.15 L1136.75 645.63 L1137.77 644.10 L1138.57 642.55 L1139.36 641.01 L1140.35 639.45 L1141.63 637.86 L1143.13 636.26 L1144.64 634.63 L1145.95 632.97 L1146.97 631.27 L1147.77 629.52 L1148.56 627.70 L1149.55 625.79 L1150.83 623.77 L1152.33 621.63 L1153.84 619.40 L1155.15 617.10 L1156.17 614.80 L1156.97 612.51 L1157.76 610.26 L1158.75 608.03 L1160.03 605.84 L1161.53 603.73 L1163.04 601.71 L1164.35 599.77 L1165.37 597.92 L1166.17 596.12 L1166.96 594.35 L1167.86 592.61 L1168.91 590.89 L1170.18 589.21 L1171.46 587.61 L1172.54 586.12 L1173.33 584.75 L1173.90 583.50 L1174.46 582.35 L1175.22 581.26 L1176.43 580.18 L1177.93 579.08 L1179.44 577.91 L1180.75 576.70 L1181.77 575.51 L1182.57 574.44 L1183.36 573.56 L1184.35 572.85 L1185.63 572.26 L1187.13 571.76 L1188.64 571.39 L1189.95 571.18 L1190.97 571.15 L1191.77 571.30 L1192.56 571.64 L1193.55 572.12 L1194.83 572.75 L1196.33 573.47 L1197.84 574.33 L1199.15 575.39 L1200.17 576.77 L1200.97 578.53 L1201.76 580.59 L1202.75 582.88 L1204.03 585.34 L1205.53 587.97 L1207.04 590.68 L1208.35 593.35 L1209.37 595.84 L1210.17 598.16 L1210.96 600.41 L1211.95 602.85 L1213.23 605.73 L1214.73 609.15 L1216.24 612.95 L1217.55 616.83 L1218.57 620.54 L1219.37 624.04 L1220.16 627.37 L1221.15 630.59 L1222.43 633.81 L1223.93 637.19 L1225.44 640.84 L1226.75 644.76 L1227.77 648.76 L1228.57 652.70 L1229.36 656.57 L1230.35 660.49 L1231.63 664.58 L1233.13 668.77 L1234.64 672.84 L1235.95 676.53 L1236.97 679.77 L1237.77 682.66 L1238.56 685.44 L1239.55 688.31 L1240.83 691.37 L1242.33 694.59 L1243.84 697.83 L1245.15 701.00 L1246.17 704.03 L1246.97 706.90 L1247.76 709.57 L1248.75 711.98 L1250.03 714.10 L1251.53 715.99 L1253.04 717.77 L1254.35 719.57 L1255.37 721.48 L1256.17 723.51 L1256.96 725.58 L1257.95 727.57 L1259.23 729.33 L1260.73 730.84 L1262.24 732.13 L1263.55 733.30 L1264.57 734.45 L1265.37 735.67 L1266.16 736.98 L1267.15 738.33 L1268.43 739.63 L1269.93 740.82 L1271.44 741.82 L1272.75 742.66 L1273.77 743.37 L1274.57 744.02 L1275.36 744.66 L1276.35 745.33 L1277.63 746.03 L1279.13 746.76 L1280.64 747.49 L1281.95 748.19 L1282.97 748.84 L1283.77 749.42 L1284.56 749.93 L1285.55 750.40 L1286.83 750.84 L1288.33 751.26 L1289.84 751.69 L1291.15 752.11 L1292.17 752.54 L1292.97 752.98 L1293.76 753.40 L1294.75 753.82 L1296.03 754.23 L1297.53 754.61 L1299.04 754.98 L1300.35 755.32 L1301.37 755.65 L1302.17 755.97 L1302.96 756.28 L1303.95 756.58 L1305.23 756.89 L1306.73 757.20 L1308.24 757.52 L1309.55 757.86 L1310.57 758.21 L1311.37 758.54 L1312.16 758.85 L1313.15 759.11 L1314.43 759.32 L1315.93 759.49 L1317.44 759.63 L1318.75 759.74 L1319.77 759.84 L1320.57 759.94 L1321.36 760.02 L1322.35 760.11 L1323.63 760.19 L1325.13 760.27 L1326.64 760.36 L1327.95 760.46 L1328.97 760.55 L1329.77 760.65 L1330.56 760.74 L1331.55 760.84 L1332.83 760.94 L1334.33 761.03 L1335.84 761.13 L1337.15 761.22 L1338.17 761.31 L1338.97 761.40 L1339.76 761.49 L1340.75 761.58 L1342.03 761.67 L1343.53 761.76 L1345.04 761.86 L1346.35 761.95 L1347.37 762.04 L1348.17 762.13 L1348.96 762.22 L1349.95 762.30 L1351.23 762.38 L1352.73 762.46 L1354.24 762.53 L1355.55 762.60 L1356.57 762.66 L1357.37 762.72 L1358.16 762.77 L1359.15 762.82 L1360.43 762.86 L1361.93 762.90 L1363.44 762.94 L1364.75 762.98 L1365.77 763.01 L1366.57 763.05 L1367.36 763.08 L1368.35 763.12 L1369.63 763.16 L1371.13 763.20 L1372.64 763.25 L1373.95 763.30 L1374.97 763.36 L1375.77 763.42 L1376.56 763.50 L1377.55 763.58 L1378.83 763.67 L1380.33 763.75 L1381.84 763.84 L1383.15 763.93 L1384.17 764.01 L1384.97 764.09 L1385.76 764.15 L1386.75 764.21 L1388.03 764.25 L1389.53 764.28 L1391.04 764.28 L1392.35 764.26 L1393.37 764.22 L1394.17 764.15 L1394.96 764.06 L1395.95 763.95 L1397.23 763.84 L1398.73 763.71 L1400.24 763.58 L1401.55 763.43 L1402.57 763.25 L1403.37 763.05 L1404.16 762.85 L1405.15 762.68 L1406.43 762.57 L1407.93 762.53 L1409.44 762.54 L1410.75 762.57 L1411.77 762.63 L1412.57 762.70 L1413.36 762.80 L1414.35 762.96 L1415.63 763.19 L1417.13 763.48 L1418.64 763.79 L1419.95 764.08 L1420.97 764.32 L1421.77 764.51 L1422.56 764.66 L1423.55 764.79 L1424.83 764.91 L1426.33 765.02 L1427.84 765.11 L1429.15 765.20 L1430.17 765.27 L1430.97 765.33 L1431.76 765.38 L1432.75 765.42 L1434.03 765.45 L1435.53 765.48 L1437.04 765.50 L1438.35 765.53 L1439.37 765.54 L1440.17 765.56 L1440.96 765.58 L1441.95 765.60 L1443.23 765.61 L1444.73 765.63 L1446.24 765.64 L1447.55 765.66 L1448.57 765.68 L1449.37 765.71 L1450.16 765.73 L1451.15 765.76 L1452.43 765.80 L1453.93 765.83 L1455.44 765.87 L1456.75 765.90 L1457.77 765.94 L1458.57 765.97 L1459.36 766.01 L1460.35 766.03 L1461.63 766.06 L1463.13 766.08 L1464.64 766.09 L1465.95 766.09 L1466.97 766.09 L1467.77 766.08 L1468.56 766.07 L1469.55 766.05 L1470.83 766.02 L1472.33 765.99 L1473.84 765.95 L1475.15 765.92 L1476.17 765.88 L1476.97 765.84 L1477.76 765.81 L1478.75 765.78 L1480.03 765.75 L1481.53 765.72 L1483.04 765.70 L1484.35 765.68 L1485.37 765.66 L1486.17 765.65 L1486.96 765.64 L1487.95 765.62 L1489.23 765.61 L1490.73 765.60 L1492.24 765.59 L1493.55 765.57 L1494.57 765.56 L1495.37 765.55 L1496.16 765.53 L1497.15 765.52 L1498.43 765.51 L1499.93 765.49 L1501.44 765.47 L1502.75 765.45 L1503.77 765.44 L1504.57 765.42 L1505.36 765.40 L1506.35 765.38 L1507.63 765.36 L1509.13 765.34 L1510.64 765.32 L1511.95 765.30 L1512.97 765.27 L1513.77 765.25 L1514.56 765.22 L1515.55 765.19 L1516.83 765.16 L1518.33 765.12 L1519.84 765.08 L1521.15 765.03 L1522.17 764.98 L1522.97 764.93 L1523.76 764.88 L1524.75 764.83 L1526.03 764.79 L1527.53 764.76 L1529.04 764.73 L1530.35 764.71 L1531.37 764.71 L1532.17 764.72 L1532.96 764.75 L1533.95 764.80 L1535.23 764.86 L1536.73 764.92 L1538.24 765.00 L1539.55 765.07 L1540.57 765.15 L1541.37 765.22 L1542.16 765.30 L1543.15 765.39 L1544.43 765.48 L1545.93 765.57 L1547.44 765.67 L1548.75 765.76 L1549.77 765.86 L1550.57 765.97 L1551.36 766.07 L1552.35 766.19 L1553.63 766.32 L1555.13 766.45 L1556.64 766.58 L1557.95 766.69 L1558.97 766.79 L1559.77 766.85 L1560.56 766.88 L1561.55 766.89 L1562.83 766.88 L1564.33 766.86 L1565.84 766.84 L1567.15 766.81 L1568.17 766.77 L1568.97 766.73 L1569.76 766.69 L1570.75 766.64 L1572.03 766.59 L1573.53 766.54 L1575.04 766.47 L1576.35 766.38 L1577.37 766.27 L1578.17 766.14 L1578.96 766.00 L1579.95 765.86 L1581.23 765.73 L1582.73 765.62 L1584.24 765.54 L1585.55 765.49 L1586.57 765.45 L1587.37 765.41 L1588.16 765.38 L1589.15 765.36 L1590.43 765.33 L1591.93 765.31 L1593.44 765.29 L1594.75 765.28 L1595.77 765.26 L1596.57 765.24 L1597.36 765.22 L1598.35 765.21 L1599.63 765.19 L1601.13 765.17 L1602.64 765.16 L1603.95 765.14 L1604.97 765.13 L1605.77 765.11 L1606.56 765.10 L1607.55 765.09 L1608.83 765.07 L1610.33 765.06 L1611.84 765.05 L1613.15 765.04 L1614.17 765.02 L1614.97 765.01 L1615.76 765.00 L1616.75 764.99 L1618.03 764.98 L1619.53 764.97 L1621.04 764.96 L1622.35 764.95 L1623.37 764.93 L1624.17 764.93 L1624.96 764.92 L1625.95 764.91 L1627.20 764.90" fill="none" stroke="#D57B36" stroke-width="5.0" stroke-linejoin="round" stroke-linecap="butt"/>
</g>
<path d="M109.05 77.4 L109.05 772.65 L1625.0 772.65" fill="none" stroke="#BEBEBE" stroke-width="2.0" stroke-linecap="square"/>
<line x1="248.0" y1="160.4" x2="248.0" y2="194" stroke="#000" stroke-width="2.1"/>
<circle cx="246.5" cy="194.3" r="6.2" fill="#000"/>
<line x1="250.7" y1="280" x2="250.7" y2="320.1" stroke="#000" stroke-width="2.1"/>
<circle cx="249.4" cy="280.4" r="6.2" fill="#000"/>
<line x1="416.4" y1="379.8" x2="416.4" y2="419" stroke="#000" stroke-width="2.1"/>
<circle cx="414.9" cy="419.0" r="6.2" fill="#000"/>
<line x1="414.9" y1="463" x2="414.9" y2="514.8" stroke="#000" stroke-width="2.1"/>
<circle cx="413.6" cy="463.0" r="6.2" fill="#000"/>
<line x1="706.6" y1="673.1" x2="706.6" y2="705" stroke="#000" stroke-width="2.1"/>
<circle cx="705.2" cy="705.1" r="6.2" fill="#000"/>
<line x1="708.9" y1="722" x2="708.9" y2="757.7" stroke="#000" stroke-width="2.1"/>
<circle cx="706.6" cy="721.8" r="6.2" fill="#000"/>
<line x1="985.3" y1="667.1" x2="985.3" y2="701" stroke="#000" stroke-width="2.1"/>
<circle cx="983.6" cy="701.0" r="6.2" fill="#000"/>
<line x1="986.9" y1="716" x2="986.9" y2="746.5" stroke="#000" stroke-width="2.1"/>
<circle cx="985.3" cy="716.3" r="6.2" fill="#000"/>
<line x1="1188.9" y1="491.4" x2="1188.9" y2="536" stroke="#000" stroke-width="2.1"/>
<circle cx="1188.9" cy="536.5" r="6.2" fill="#000"/>
<line x1="1191.9" y1="572" x2="1191.9" y2="615.0" stroke="#000" stroke-width="2.1"/>
<circle cx="1190.5" cy="571.8" r="6.2" fill="#000"/>
<text class="dl" transform="matrix(1 0.0006 0 1 0 -0.1618)" x="151.0" y="148.3" textLength="237.39" lengthAdjust="spacingAndGlyphs">(420 nm, 2.469 AU)</text>
<text class="dl" transform="matrix(1 0.0006 0 1 0 -0.1542)" x="138.2" y="338.8" textLength="237.7" lengthAdjust="spacingAndGlyphs">(420 nm, 2.086 AU)</text>
<text class="dl" transform="matrix(1 0.0006 0 1 0 -0.2906)" x="365.6" y="373.4" textLength="237.39" lengthAdjust="spacingAndGlyphs">(460 nm, 1.516 AU)</text>
<text class="dl" transform="matrix(1 0.0006 0 1 0 -0.2561)" x="308.21" y="531.6" textLength="237.19" lengthAdjust="spacingAndGlyphs">(460 nm, 1.348 AU)</text>
<text class="dl" transform="matrix(1 0.0006 0 1 0 -0.4189)" x="579.4" y="667.7" textLength="237.7" lengthAdjust="spacingAndGlyphs">(537 nm, 0.278 AU)</text>
<text class="dl" transform="matrix(1 0.0006 0 1 0 -0.4301)" x="598.2" y="775.3" textLength="237.29" lengthAdjust="spacingAndGlyphs">(537 nm, 0.218 AU)</text>
<text class="dl" transform="matrix(1 0.0006 0 1 0 -0.5881)" x="861.5" y="661.9" textLength="237.29" lengthAdjust="spacingAndGlyphs">(613 nm, 0.291 AU)</text>
<text class="dl" transform="matrix(1 0.0006 0 1 0 -0.5956)" x="873.9" y="764.9" textLength="237.5" lengthAdjust="spacingAndGlyphs">(613 nm, 0.263 AU)</text>
<text class="dl" transform="matrix(1 0.0006 0 1 0 -0.7156)" x="1073.9" y="480.8" textLength="237.39" lengthAdjust="spacingAndGlyphs">(666 nm, 1.015 AU)</text>
<text class="dl" transform="matrix(1 0.0006 0 1 0 -0.7512)" x="1133.51" y="631.9" textLength="236.88" lengthAdjust="spacingAndGlyphs">(666 nm, 0.870 AU)</text>
<line x1="540.5" y1="945.9" x2="602.7" y2="945.9" stroke="#5170C0" stroke-width="5.0" stroke-linecap="round"/>
<text class="at" transform="matrix(1 0.0006 0 1 0 -0.4285)" y="954.3"><tspan x="610.42" textLength="107.41" lengthAdjust="spacingAndGlyphs">Acetone</tspan> <tspan x="726.58" textLength="91.37" lengthAdjust="spacingAndGlyphs">extract</tspan></text>
<line x1="860.2" y1="945.9" x2="921.8" y2="945.9" stroke="#D57B36" stroke-width="5.0" stroke-linecap="round"/>
<text class="at" transform="matrix(1 0.0006 0 1 0 -0.6129)" y="954.3"><tspan x="927.95" textLength="85.49" lengthAdjust="spacingAndGlyphs">MeOH</tspan> <tspan x="1021.68" textLength="91.26" lengthAdjust="spacingAndGlyphs">extract</tspan></text>
</svg>
</body>
</html>
